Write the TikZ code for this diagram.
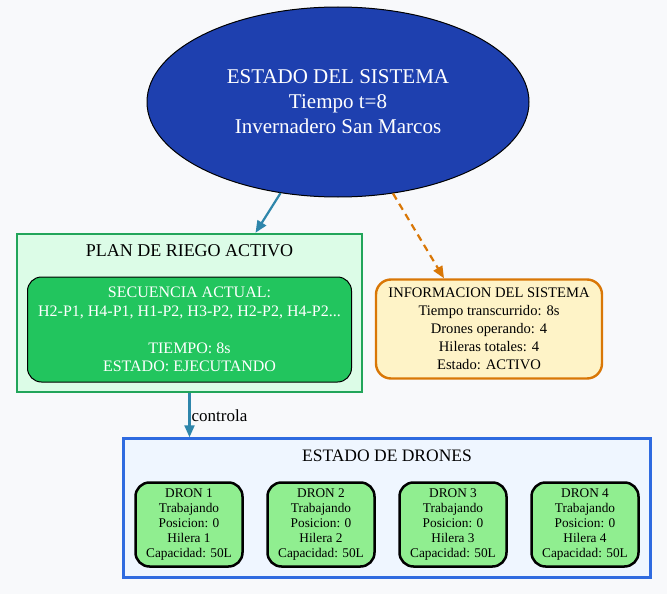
\documentclass[tikz,border=0pt]{standalone}
\usepackage{fontspec}
\setmainfont{Liberation Serif}
\usepackage{xcolor}
\usetikzlibrary{arrows.meta,shapes.geometric}

\definecolor{fondo}{HTML}{F8F9FB}
\definecolor{azulsis}{HTML}{1E40AF}
\definecolor{flecha}{HTML}{2E86AB}
\definecolor{naranja}{HTML}{D97706}
\definecolor{verdeborde}{HTML}{22A55A}
\definecolor{verdefondo}{HTML}{DCFCE7}
\definecolor{verdesec}{HTML}{22C55E}
\definecolor{amarillo}{HTML}{FEF3C7}
\definecolor{azulborde}{HTML}{2F6BE0}
\definecolor{azulfondo}{HTML}{EFF6FF}
\definecolor{verdedron}{HTML}{90EE90}

\begin{document}
\begin{tikzpicture}[y=-1pt,x=1pt]
	\tikzset{
		cluster/.style={draw, line width=2.4pt, inner sep=0pt},
		dron/.style={draw=black, line width=2.5pt, fill=verdedron, rounded corners=14pt, minimum width=107pt, minimum height=84pt, align=center, font=\fontsize{13.3}{15}\selectfont},
		enlace/.style={line width=2.2pt, -{Triangle[length=12pt,width=10pt]}},
	}

	\fill[fondo] (0,0) rectangle (667,594);
	\useasboundingbox (0,0) rectangle (667,594);

	\node[ellipse, draw=black, line width=1pt, fill=azulsis, text=white, minimum width=382pt, minimum height=190pt, align=center, font=\fontsize{21}{25}\selectfont] (sistema) at (338,102) {ESTADO DEL SISTEMA\\Tiempo t=8\\Invernadero San Marcos};

	\node[cluster, draw=verdeborde, fill=verdefondo, minimum width=345pt, minimum height=158pt] (plan) at (189.5,313) {};
	\node[font=\fontsize{18}{18}\selectfont] (tituloplan) at (189.5,250.5) {PLAN DE RIEGO ACTIVO};
	\node[draw=black, line width=1pt, fill=verdesec, rounded corners=14pt, minimum width=324pt, minimum height=105pt, text=white, align=center, font=\fontsize{16}{18.5}\selectfont] (secuencia) at (189.5,329.5) {SECUENCIA ACTUAL:\\H2-P1, H4-P1, H1-P2, H3-P2, H2-P2, H4-P2...\\~\\TIEMPO: 8s\\ESTADO: EJECUTANDO};

	\node[draw=naranja, line width=2.4pt, fill=amarillo, rounded corners=15pt, minimum width=226pt, minimum height=99pt, align=center, font=\fontsize{14.6}{18}\selectfont] (info) at (489,329) {INFORMACION DEL SISTEMA\\Tiempo transcurrido: 8s\\Drones operando: 4\\Hileras totales: 4\\Estado: ACTIVO};

	\node[cluster, draw=azulborde, fill=azulfondo, minimum width=527pt, minimum height=139pt] (drones) at (387,508) {};
	\node[font=\fontsize{17.5}{17.5}\selectfont] (titulodrones) at (387,456) {ESTADO DE DRONES};

	\foreach \i/\x in {1/189,2/321,3/453,4/585}
		\node[dron] (dron\i) at (\x,524.5) {DRON \i\\Trabajando\\Posicion: 0\\Hilera \i\\Capacidad: 50L};

	\draw[enlace, flecha] (sistema) -- ([xshift=66pt]plan.north);
	\draw[enlace, naranja, dash pattern=on 7pt off 5pt] (sistema) -- ([xshift=-45pt]info.north);
	\draw[enlace, flecha] (plan.south) -- (plan.south |- drones.north) node[midway, right, text=black, font=\fontsize{17}{17}\selectfont, inner sep=1pt] {controla};
\end{tikzpicture}
\end{document}
